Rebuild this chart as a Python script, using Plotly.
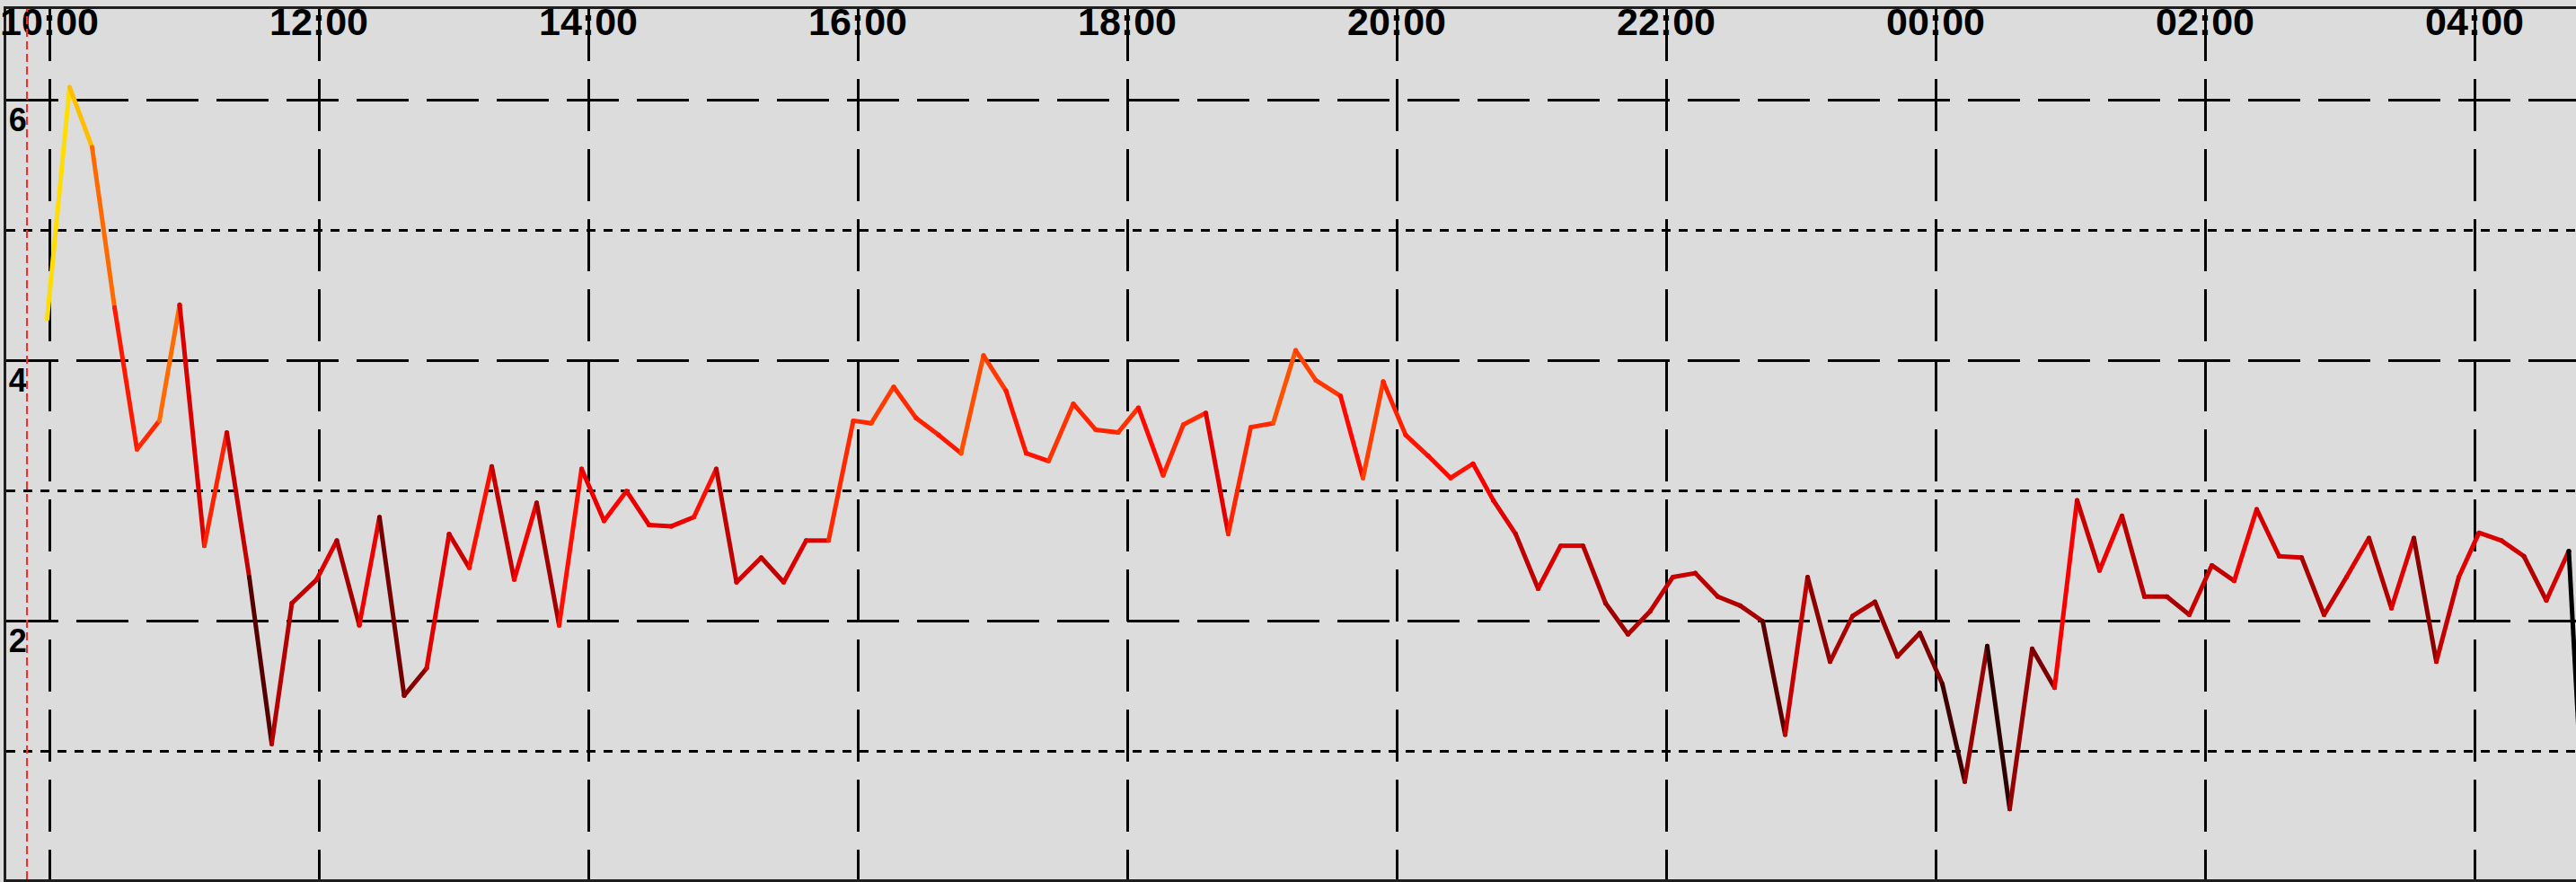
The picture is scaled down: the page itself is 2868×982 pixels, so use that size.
import plotly.graph_objects as go
from plotly.colors import sample_colorscale

# ---------------- data ----------------
DAY_START = "2024-05-01"
DAY_NEXT = "2024-05-02"

times = ["09:59", "10:09", "10:19", "10:29", "10:39", "10:49", "10:58", "11:09", "11:19", "11:29",
         "11:39", "11:48", "11:59", "12:08", "12:18", "12:27", "12:38", "12:48", "12:58", "13:07",
         "13:17", "13:27", "13:37", "13:47", "13:57", "14:07", "14:17", "14:27", "14:37", "14:47",
         "14:57", "15:06", "15:17", "15:27", "15:37", "15:47", "15:58", "16:06", "16:16", "16:26",
         "16:36", "16:46", "16:56", "17:06", "17:15", "17:25", "17:36", "17:46", "17:56", "18:05",
         "18:16", "18:25", "18:35", "18:45", "18:55", "19:05", "19:15", "19:24", "19:35", "19:45",
         "19:54", "20:04", "20:14", "20:24", "20:34", "20:43", "20:53", "21:03", "21:13", "21:23",
         "21:33", "21:43", "21:53", "22:03", "22:13", "22:23", "22:33", "22:43", "22:53", "23:03",
         "23:13", "23:23", "23:33", "23:43", "23:53", "00:03", "00:13", "00:23", "00:33", "00:43",
         "00:53", "01:03", "01:13", "01:23", "01:33", "01:43", "01:53", "02:03", "02:13", "02:23",
         "02:33", "02:43", "02:53", "03:03", "03:13", "03:23", "03:33", "03:43", "03:53", "04:02",
         "04:12", "04:22", "04:32", "04:42", "04:50"]

values = [4.32, 6.10, 5.64, 4.41, 3.32, 3.54, 4.43, 2.58, 3.45, 2.34,
          1.06, 2.14, 2.32, 2.62, 1.97, 2.80, 1.43, 1.64, 2.67, 2.41,
          3.19, 2.32, 2.91, 1.97, 3.17, 2.77, 3.00, 2.74, 2.73, 2.80,
          3.17, 2.30, 2.49, 2.30, 2.62, 2.62, 3.54, 3.52, 3.80, 3.56,
          3.43, 3.29, 4.04, 3.77, 3.29, 3.23, 3.67, 3.47, 3.45, 3.64,
          3.12, 3.51, 3.60, 2.67, 3.49, 3.52, 4.08, 3.85, 3.73, 3.10,
          3.84, 3.43, 3.27, 3.10, 3.21, 2.93, 2.67, 2.25, 2.58, 2.58,
          2.14, 1.90, 2.08, 2.34, 2.37, 2.19, 2.12, 2.00, 1.13, 2.34,
          1.69, 2.04, 2.15, 1.73, 1.91, 1.52, 0.77, 1.81, 0.56, 1.79,
          1.49, 2.93, 2.39, 2.81, 2.19, 2.19, 2.05, 2.43, 2.31, 2.86,
          2.50, 2.49, 2.05, 2.34, 2.64, 2.10, 2.64, 1.69, 2.34, 2.68,
          2.62, 2.50, 2.16, 2.54, 0.00]

marker_time = "09:50"
view_start = "09:40:48"
view_end = "04:45:12"
y_ticks = [2, 4, 6]
y_tick_labels = ["2", "4", "6"]
y_minor_ticks = [1, 3, 5]
y_range = [0.02, 6.70]
color_max = 8.0

heat_scale = [[0.0, "rgb(0,0,0)"], [0.125, "rgb(80,0,0)"], [0.29, "rgb(195,0,0)"],
              [0.375, "rgb(255,0,0)"], [0.55, "rgb(255,105,0)"], [0.76, "rgb(255,220,0)"],
              [1.0, "rgb(255,255,200)"]]

# ---------------- build ----------------
stamps = []
day = DAY_START
prev = None
for t in times:
    if prev is not None and t < prev:
        day = DAY_NEXT
    stamps.append(f"{day} {t}")
    prev = t

seg_colors = sample_colorscale(heat_scale, [min(max(v / color_max, 0.0), 1.0) for v in values[1:]])

LW = 5
fig = go.Figure()
for i in range(len(values) - 1):
    fig.add_trace(go.Scatter(
        x=stamps[i:i + 2], y=values[i:i + 2], mode="lines+markers",
        line=dict(color=seg_colors[i], width=LW),
        marker=dict(color=seg_colors[i], size=LW, line=dict(width=0)),
        showlegend=False, hoverinfo="skip"))

fig.add_vline(x=f"{DAY_START} {marker_time}",
              line=dict(color="rgb(255,40,40)", width=2, dash="9px,5px"))

BG = "rgb(220,220,220)"
fig.update_layout(
    width=2868, height=982,
    margin=dict(l=7, r=0, t=5, b=2),
    plot_bgcolor=BG, paper_bgcolor=BG,
    showlegend=False,
    xaxis=dict(
        type="date",
        range=[f"{DAY_START} {view_start}", f"{DAY_NEXT} {view_end}"],
        tick0=f"{DAY_START} 10:00", dtick=7200000, tickformat="%H:%M",
        side="top", ticklabelposition="inside", ticklabeloverflow="allow",
        ticklabelstandoff=5,
        ticks="", showline=True, mirror=True, linecolor="rgb(30,30,30)", linewidth=3,
        showgrid=True, gridcolor="black", gridwidth=2.5, griddash="58px,20px",
        zeroline=False,
        tickfont=dict(family="Liberation Sans", size=43, color="black", weight="bold"),
    ),
    yaxis=dict(
        range=y_range,
        tickvals=y_ticks, ticktext=y_tick_labels,
        ticklabelposition="inside", ticklabelshift=22, ticklabelstandoff=7,
        ticks="", showline=True, mirror=False, linecolor="rgb(30,30,30)", linewidth=3,
        showgrid=True, gridcolor="black", gridwidth=2.5, griddash="58px,20px",
        zeroline=False,
        tickfont=dict(family="Liberation Sans", size=36, color="black", weight="bold"),
        minor=dict(tickvals=y_minor_ticks, showgrid=True, gridcolor="black",
                   gridwidth=2.5, griddash="10px,9px", ticks=""),
    ),
)

fig.write_html("out.html", config={"displayModeBar": False},
               post_script="document.body.style.margin='0';document.body.style.overflow='hidden';")
